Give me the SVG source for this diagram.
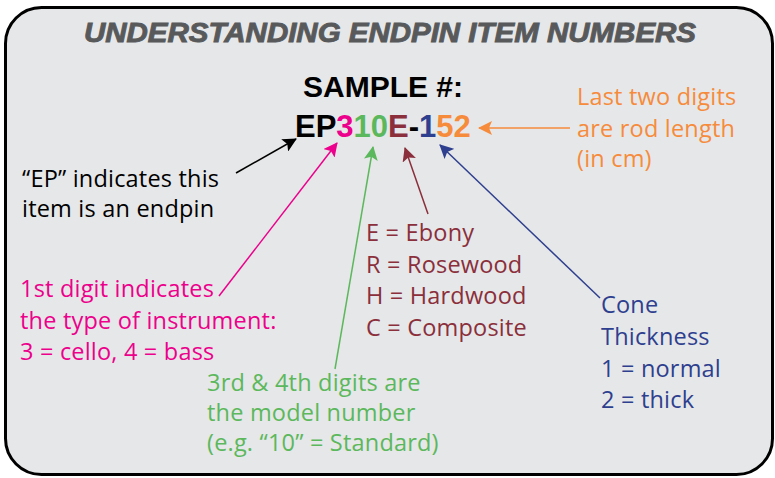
<svg xmlns="http://www.w3.org/2000/svg" width="775" height="478" viewBox="0 0 775 478">
<style>
.t{font-family:"Open Sans","Noto Sans","Liberation Sans",sans-serif;font-size:23.5px;letter-spacing:0.2px}
.pk{fill:#ec008c}.gr{fill:#5cb85c}.mr{fill:#8a2f3b}.bl{fill:#2e3f8f}.or{fill:#f68b3c}.bk{fill:#000}
.big{font-family:"Liberation Sans",Arial,sans-serif;font-weight:bold}
.ln{fill:none;stroke-width:1.5}
</style>
<defs>
<marker id="aBk" viewBox="0 0 14 14" refX="13" refY="7" markerWidth="14" markerHeight="14" markerUnits="userSpaceOnUse" orient="auto"><path d="M0,0 L14,7 L0,14 L3,7 z" fill="#000"/></marker>
<marker id="aPk" viewBox="0 0 14 14" refX="13" refY="7" markerWidth="14" markerHeight="14" markerUnits="userSpaceOnUse" orient="auto"><path d="M0,0 L14,7 L0,14 L3,7 z" fill="#ec008c"/></marker>
<marker id="aGr" viewBox="0 0 14 14" refX="13" refY="7" markerWidth="14" markerHeight="14" markerUnits="userSpaceOnUse" orient="auto"><path d="M0,0 L14,7 L0,14 L3,7 z" fill="#5cb85c"/></marker>
<marker id="aMr" viewBox="0 0 14 14" refX="13" refY="7" markerWidth="14" markerHeight="14" markerUnits="userSpaceOnUse" orient="auto"><path d="M0,0 L14,7 L0,14 L3,7 z" fill="#8a2f3b"/></marker>
<marker id="aBl" viewBox="0 0 14 14" refX="13" refY="7" markerWidth="14" markerHeight="14" markerUnits="userSpaceOnUse" orient="auto"><path d="M0,0 L14,7 L0,14 L3,7 z" fill="#2e3f8f"/></marker>
<marker id="aOr" viewBox="0 0 14 14" refX="13" refY="7" markerWidth="14" markerHeight="14" markerUnits="userSpaceOnUse" orient="auto"><path d="M0,0 L14,7 L0,14 L3,7 z" fill="#f68b3c"/></marker>
</defs>
<g id="frame">
<rect x="5.5" y="7.5" width="767" height="467" rx="36" ry="36" fill="#e6e7e8" stroke="#000" stroke-width="3"/>
<text x="390" y="42" text-anchor="middle" font-family="'Liberation Sans',Arial,sans-serif" font-weight="bold" font-style="italic" font-size="27" fill="#58595b" stroke="#58595b" stroke-width="0.9" textLength="612" lengthAdjust="spacingAndGlyphs">UNDERSTANDING ENDPIN ITEM NUMBERS</text>
</g>
<g id="sample">
<text x="383" y="97" text-anchor="middle" class="big bk" font-size="30">SAMPLE #:</text>
<text x="295" y="137" class="big" font-size="31"><tspan class="bk">EP</tspan><tspan class="pk">3</tspan><tspan class="gr">10</tspan><tspan class="mr">E</tspan><tspan class="bk">-</tspan><tspan class="bl">1</tspan><tspan class="or">52</tspan></text>
</g>
<g id="connectors">
<line class="ln" x1="236" y1="173" x2="296" y2="139" stroke="#000" marker-end="url(#aBk)"/>
<line class="ln" x1="219" y1="296" x2="337" y2="143" stroke="#ec008c" marker-end="url(#aPk)"/>
<line class="ln" x1="335" y1="369" x2="373" y2="147" stroke="#5cb85c" marker-end="url(#aGr)"/>
<line class="ln" x1="428" y1="214" x2="405" y2="148" stroke="#8a2f3b" marker-end="url(#aMr)"/>
<line class="ln" x1="600" y1="298" x2="440" y2="145" stroke="#2e3f8f" marker-end="url(#aBl)"/>
<line class="ln" x1="570" y1="128" x2="479" y2="128" stroke="#f68b3c" marker-end="url(#aOr)"/>
</g>
<g id="ep-note">
<text class="t bk" x="22" y="187">“EP” indicates this</text>
<text class="t bk" x="22" y="217">item is an endpin</text>
</g>
<g id="first-digit-note">
<text class="t pk" x="20" y="297">1st digit indicates</text>
<text class="t pk" x="20" y="329">the type of instrument:</text>
<text class="t pk" x="20" y="360">3 = cello, 4 = bass</text>
</g>
<g id="model-note">
<text class="t gr" x="207" y="391">3rd &amp; 4th digits are</text>
<text class="t gr" x="207" y="421">the model number</text>
<text class="t gr" x="207" y="451">(e.g. “10” = Standard)</text>
</g>
<g id="wood-note">
<text class="t mr" x="366" y="241">E = Ebony</text>
<text class="t mr" x="366" y="273">R = Rosewood</text>
<text class="t mr" x="366" y="304">H = Hardwood</text>
<text class="t mr" x="366" y="336">C = Composite</text>
</g>
<g id="length-note">
<text class="t or" x="577" y="105">Last two digits</text>
<text class="t or" x="577" y="137">are rod length</text>
<text class="t or" x="577" y="167">(in cm)</text>
</g>
<g id="cone-note">
<text class="t bl" x="601" y="313">Cone</text>
<text class="t bl" x="601" y="345">Thickness</text>
<text class="t bl" x="601" y="377">1 = normal</text>
<text class="t bl" x="601" y="408">2 = thick</text>
</g>
</svg>
